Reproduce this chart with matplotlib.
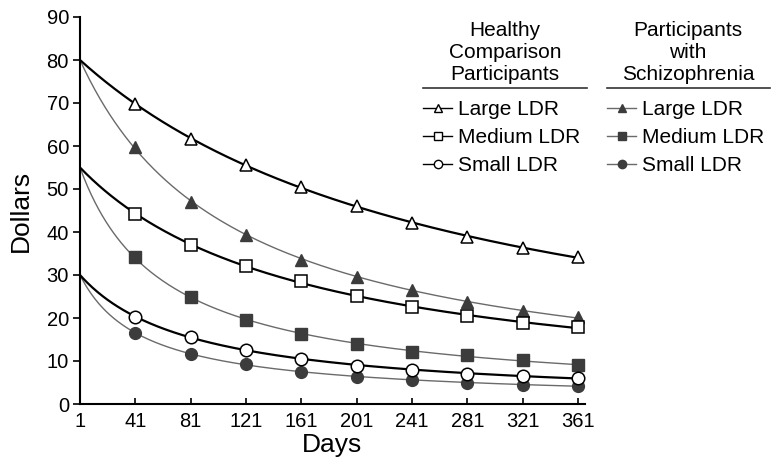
import numpy as np
import matplotlib.pyplot as plt
from matplotlib.lines import Line2D

plt.rcParams['font.family'] = ['Liberation Sans', 'DejaVu Sans']

# Delay in days and values
days = [41, 81, 121, 161, 201, 241, 281, 321, 361]
start_day = 1
start_amounts = {'Large LDR': 80, 'Medium LDR': 55, 'Small LDR': 30}

healthy_large = [69.8, 61.6, 55.6, 50.4, 46.0, 42.2, 38.9, 36.2, 34.2]
healthy_medium = [44.1, 37.0, 32.2, 28.5, 25.2, 22.6, 20.5, 18.9, 17.8]
healthy_small = [20.3, 15.5, 12.6, 10.5, 8.9, 7.9, 7.0, 6.6, 6.1]

schiz_large = [59.8, 46.9, 39.3, 33.6, 29.6, 26.4, 23.8, 21.7, 20.2]
schiz_medium = [34.1, 24.8, 19.5, 16.3, 13.9, 12.2, 11.3, 10.2, 9.1]
schiz_small = [16.6, 11.6, 9.2, 7.5, 6.3, 5.6, 5.0, 4.5, 4.2]

labels = ['Large LDR', 'Medium LDR', 'Small LDR']
markers = ['^', 's', 'o']
healthy = [healthy_large, healthy_medium, healthy_small]
schiz = [schiz_large, schiz_medium, schiz_small]


def discount_fit(amount, d, v):
    # fit V = A / (1 + k (D - 1))^s to the marker values (grid over k, lsq for s)
    d = np.asarray(d, float) - start_day
    y = np.log(amount / np.asarray(v, float))
    best = None
    for k in np.logspace(-4, 0, 800):
        x = np.log1p(k * d)
        s = np.sum(x * y) / np.sum(x * x)
        err = np.sum((amount * np.exp(-s * x) - np.asarray(v)) ** 2)
        if best is None or err < best[0]:
            best = (err, k, s)
    _, k, s = best
    xs = np.linspace(start_day, 361, 400)
    return xs, amount / (1 + k * (xs - start_day)) ** s


fig = plt.figure(figsize=(7.76, 4.72), dpi=100)
ax = fig.add_axes([80 / 776, 1 - 404 / 472, (585 - 80) / 776, (404 - 17) / 472])

h_handles, s_handles = [], []
for lab, m, hv, sv in zip(labels, markers, healthy, schiz):
    A = start_amounts[lab]
    xs, ys = discount_fit(A, days, sv)
    ax.plot(xs, ys, color='#6a6a6a', lw=1.0, zorder=2)
    ax.plot(days, sv, ls='none', marker=m, ms=8.5, mfc='#3c3c3c', mec='#3c3c3c', zorder=3)
    s_handles.append(Line2D([], [], color='#6a6a6a', lw=1.0, marker=m, ms=6,
                            mfc='#3c3c3c', mec='#3c3c3c'))
    xs, ys = discount_fit(A, days, hv)
    ax.plot(xs, ys, color='black', lw=1.6, zorder=4)
    ax.plot(days, hv, ls='none', marker=m, ms=9, mfc='white', mec='black', mew=1.1, zorder=5)
    h_handles.append(Line2D([], [], color='black', lw=1.0, marker=m, ms=6,
                            mfc='white', mec='black', mew=1.0))

ax.set_xlim(1, 366)
ax.set_ylim(0, 90)
ax.set_xticks(range(1, 362, 40))
ax.set_yticks(range(0, 91, 10))
ax.spines['top'].set_visible(False)
ax.spines['right'].set_visible(False)
ax.spines['left'].set_linewidth(1.5)
ax.spines['bottom'].set_linewidth(1.5)
ax.tick_params(axis='y', direction='out', length=5, width=1.2, labelsize=14.5, pad=3)
ax.tick_params(axis='x', direction='in', length=4, width=1.2, labelsize=14.5, pad=6)
ax.set_xlabel('Days', fontsize=19, labelpad=1)
ax.set_ylabel('Dollars', fontsize=19, labelpad=10)

# legend headers with rules underneath
fig.text(505 / 776, 1 - 52 / 472, 'Healthy\nComparison\nParticipants', ha='center', va='center',
         fontsize=15, linespacing=1.2)
fig.text(688 / 776, 1 - 52 / 472, 'Participants\nwith\nSchizophrenia', ha='center', va='center',
         fontsize=15, linespacing=1.2)
fig.add_artist(Line2D([423 / 776, 587 / 776], [1 - 88 / 472] * 2, color='#333333', lw=1.2))
fig.add_artist(Line2D([607 / 776, 770 / 776], [1 - 88 / 472] * 2, color='#333333', lw=1.2))

leg_kw = dict(frameon=False, fontsize=15, loc='upper left', borderpad=0, borderaxespad=0,
              handlelength=1.4, handletextpad=0.3, labelspacing=0.43,
              bbox_transform=fig.transFigure)
leg1 = ax.legend(h_handles, labels, bbox_to_anchor=(423 / 776, 1 - 100 / 472), **leg_kw)
ax.add_artist(leg1)
ax.legend(s_handles, labels, bbox_to_anchor=(607 / 776, 1 - 100 / 472), **leg_kw)

fig.savefig('out.png', dpi=100)
